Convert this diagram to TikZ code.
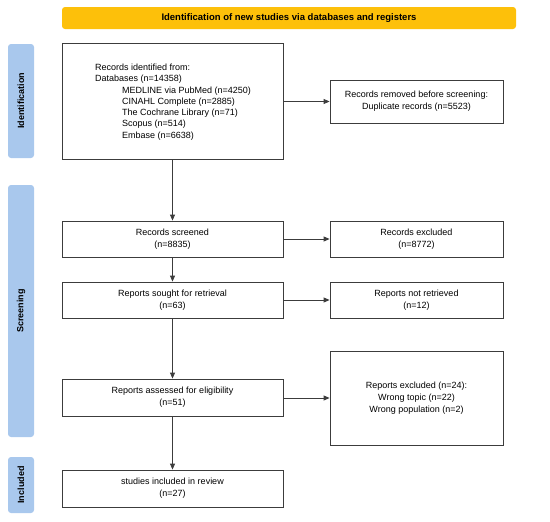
\documentclass[tikz,border=0pt]{standalone}
\usepackage{fontspec}
\setmainfont{Liberation Sans}
\usetikzlibrary{arrows.meta}
\definecolor{bannerc}{RGB}{253,192,10}
\definecolor{sidec}{RGB}{169,200,237}
\definecolor{linec}{RGB}{60,60,60}
\begin{document}
\begin{tikzpicture}[x=1pt,y=-1pt,
  box/.style={draw=linec,line width=0.8pt,fill=white,minimum width=221pt,inner sep=2pt,align=center,font=\fontsize{9}{11.7}\selectfont},
  rbox/.style={box,minimum width=173pt},
  side/.style={fill=sidec,rounded corners=3pt,minimum width=26pt,inner sep=0pt},
  sidetext/.style={rotate=90,font=\fontsize{9}{11}\selectfont\bfseries},
  conn/.style={draw=linec,line width=0.8pt,-{Triangle[length=6pt,width=5pt]}}]
\useasboundingbox (0,0) rectangle (550,522);
% banner
\node[fill=bannerc,rounded corners=3pt,minimum width=454pt,minimum height=22pt,inner sep=0pt,font=\fontsize{9.5}{11}\selectfont\bfseries] (banner) at (289,18) {Identification of new studies via databases and registers};
% side bars
\node[side,minimum height=114pt] (sideid) at (21,101) {};
\node[sidetext] (sideidt) at (sideid) {Identification};
\node[side,minimum height=252pt] (sidesc) at (21,311) {};
\node[sidetext] (sidesct) at (sidesc) {Screening};
\node[side,minimum height=56pt] (sidein) at (21,485) {};
\node[sidetext] (sideint) at (sidein) {Included};
% boxes
\node[box,minimum height=116pt] (ident) at (172.5,101) {};
\node[anchor=west,align=left,inner sep=0pt,font=\fontsize{9}{11.3}\selectfont] (identt) at (95,102) {Records identified from:\\Databases (n=14358)\\\hspace*{27pt}MEDLINE via PubMed (n=4250)\\\hspace*{27pt}CINAHL Complete (n=2885)\\\hspace*{27pt}The Cochrane Library (n=71)\\\hspace*{27pt}Scopus (n=514)\\\hspace*{27pt}Embase (n=6638)};
\node[rbox,minimum height=43pt] (removed) at (416.5,101.5) {Records removed before screening:\\Duplicate records (n=5523)};
\node[box,minimum height=36pt] (screened) at (172.5,239) {Records screened\\(n=8835)};
\node[rbox,minimum height=36pt] (excluded) at (416.5,239) {Records excluded\\(n=8772)};
\node[box,minimum height=36pt] (sought) at (172.5,300) {Reports sought for retrieval\\(n=63)};
\node[rbox,minimum height=36pt] (notret) at (416.5,300) {Reports not retrieved\\(n=12)};
\node[box,minimum height=37pt] (assessed) at (172.5,397.5) {Reports assessed for eligibility\\(n=51)};
\node[rbox,minimum height=94pt] (repexcl) at (416.5,398) {Reports excluded (n=24):\\Wrong topic (n=22)\\Wrong population (n=2)};
\node[box,minimum height=37pt] (included) at (172.5,488.5) {studies included in review\\(n=27)};
% connectors
\draw[conn] (ident.south) -- (screened.north);
\draw[conn] (screened.south) -- (sought.north);
\draw[conn] (sought.south) -- (assessed.north);
\draw[conn] (assessed.south) -- (included.north);
\draw[conn] (ident.east |- removed.west) -- (removed.west);
\draw[conn] (screened.east) -- (excluded.west);
\draw[conn] (sought.east) -- (notret.west);
\draw[conn] (assessed.east |- repexcl.west) -- (repexcl.west);
\end{tikzpicture}
\end{document}
